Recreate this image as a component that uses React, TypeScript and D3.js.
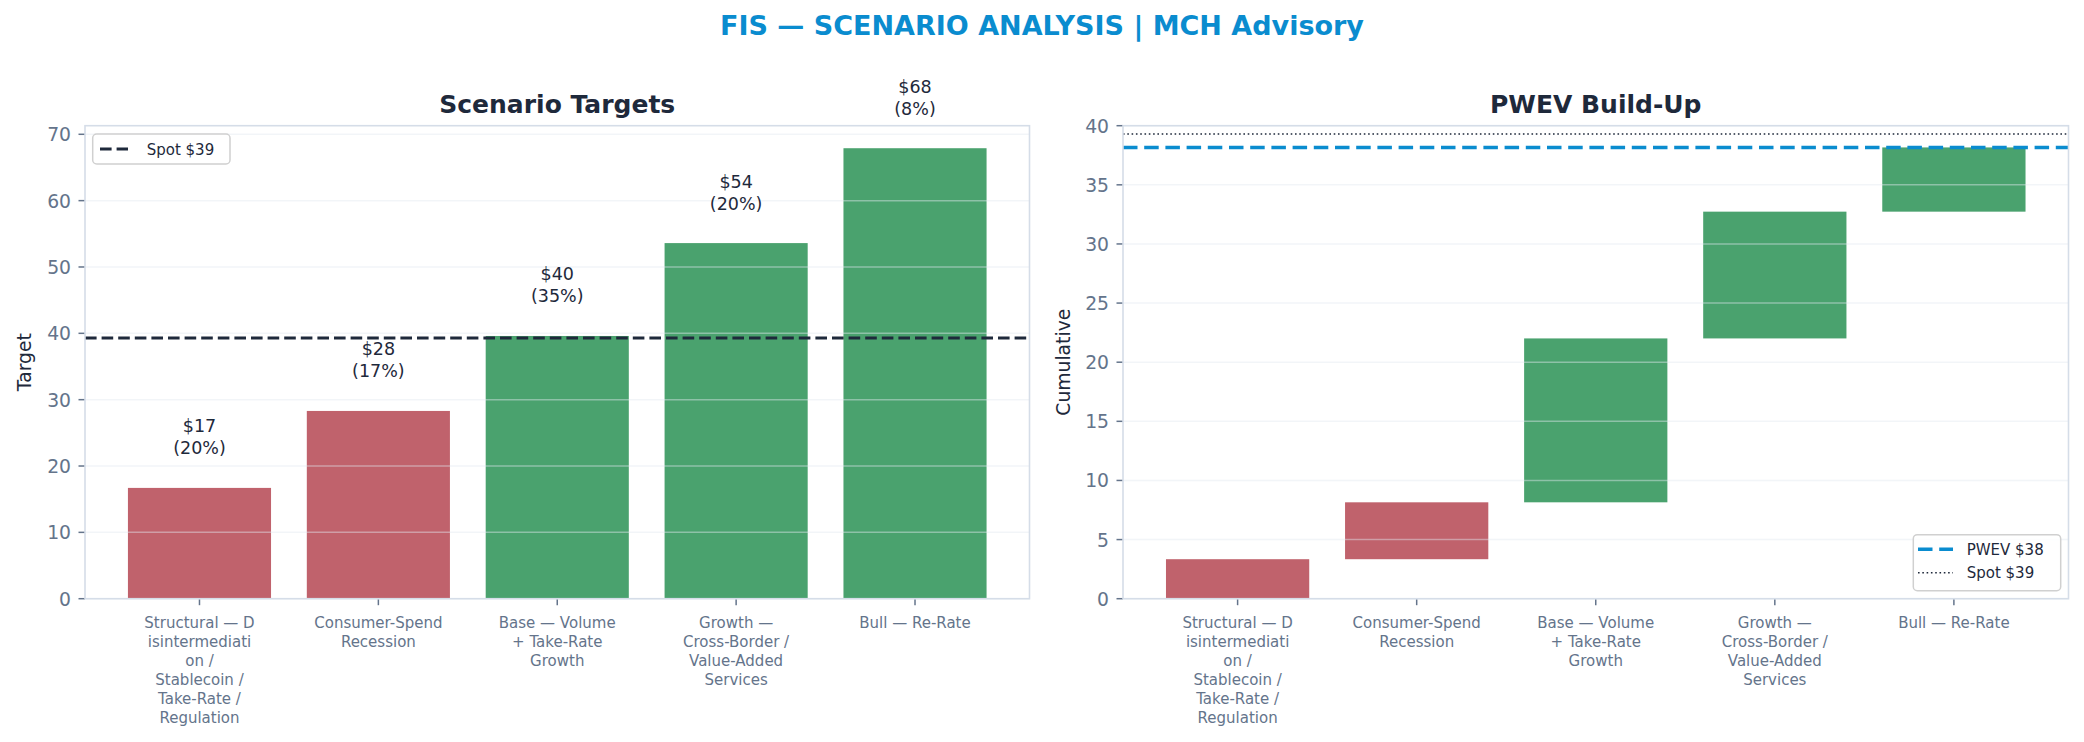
import React, { useEffect, useRef } from 'react';
import * as d3 from 'd3';

const WIDTH = 2084;
const HEIGHT = 742;

// Scenario names, already wrapped the way the source chart wraps them
const SCENARIOS = [
  'Structural — D\nisintermediati\non /\nStablecoin /\nTake-Rate /\nRegulation',
  'Consumer-Spend\nRecession',
  'Base — Volume\n+ Take-Rate\nGrowth',
  'Growth —\nCross-Border /\nValue-Added\nServices',
  'Bull — Re-Rate',
];
const TARGETS = [16.7, 28.3, 39.6, 53.6, 67.9];
const PROBS = [0.2, 0.17, 0.35, 0.2, 0.08];
const SPOT = 39.3;

const LEFT_TICKS = [0, 10, 20, 30, 40, 50, 60, 70];
const RIGHT_TICKS = [0, 5, 10, 15, 20, 25, 30, 35, 40];

const FONT = '"DejaVu Sans", sans-serif';
const DARK = '#1e293b';
const GREY = '#64748b';
const RED = '#c0626c';
const GREEN = '#4aa26e';
const BLUE = '#0a8ccf';
const SPINE = '#d5dde8';

const TOP = 125.7;
const BOTTOM = 598.7;

type Sel = d3.Selection<SVGGElement, unknown, null, undefined>;

// Shared frame: grid, ticks, tick labels, axis label and title
function drawFrame(
  g: Sel,
  x: d3.ScaleLinear<number, number>,
  y: d3.ScaleLinear<number, number>,
  ticks: number[],
  yLabel: string,
  yLabelX: number,
  title: string,
) {
  const [x0, x1] = x.range();

  // x ticks + wrapped labels
  SCENARIOS.forEach((name, i) => {
    const cx = x(i);
    g.append('line')
      .attr('x1', cx).attr('x2', cx)
      .attr('y1', BOTTOM).attr('y2', BOTTOM + 6.5)
      .attr('stroke', GREY).attr('stroke-width', 1.5);
    name.split('\n').forEach((line, j) => {
      g.append('text')
        .attr('x', cx)
        .attr('y', 627.5 + j * 19)
        .attr('text-anchor', 'middle')
        .attr('font-size', 15)
        .attr('fill', GREY)
        .text(line);
    });
  });

  // y ticks
  ticks.forEach((t) => {
    g.append('line')
      .attr('x1', x0 - 6.5).attr('x2', x0)
      .attr('y1', y(t)).attr('y2', y(t))
      .attr('stroke', GREY).attr('stroke-width', 1.5);
    g.append('text')
      .attr('x', x0 - 14)
      .attr('y', y(t) + 7)
      .attr('text-anchor', 'end')
      .attr('font-size', 18.75)
      .attr('fill', GREY)
      .text(String(t));
  });

  g.append('text')
    .attr('transform', `translate(${yLabelX},${(TOP + BOTTOM) / 2}) rotate(-90)`)
    .attr('text-anchor', 'middle')
    .attr('font-size', 18.75)
    .attr('fill', DARK)
    .text(yLabel);

  g.append('text')
    .attr('x', (x0 + x1) / 2)
    .attr('y', 112.7)
    .attr('text-anchor', 'middle')
    .attr('font-size', 25)
    .attr('font-weight', 'bold')
    .attr('fill', DARK)
    .text(title);
}

function drawGrid(g: Sel, x: d3.ScaleLinear<number, number>, y: d3.ScaleLinear<number, number>, ticks: number[]) {
  const [x0, x1] = x.range();
  ticks.forEach((t) => {
    g.append('line')
      .attr('x1', x0).attr('x2', x1)
      .attr('y1', y(t)).attr('y2', y(t))
      .attr('stroke', '#e2e8f0')
      .attr('stroke-opacity', 0.45)
      .attr('stroke-width', 1.5);
  });
}

function drawSpines(g: Sel, x: d3.ScaleLinear<number, number>) {
  const [x0, x1] = x.range();
  g.append('rect')
    .attr('x', x0).attr('y', TOP)
    .attr('width', x1 - x0).attr('height', BOTTOM - TOP)
    .attr('fill', 'none')
    .attr('stroke', SPINE)
    .attr('stroke-width', 1.6);
}

const App: React.FC = () => {
  const svgRef = useRef<SVGSVGElement>(null);

  useEffect(() => {
    if (!svgRef.current) return;
    const svg = d3.select(svgRef.current);
    svg.selectAll('*').remove();
    const root = svg.append('g').attr('font-family', FONT) as unknown as Sel;

    const colorOf = (v: number) => (v < SPOT ? RED : GREEN);
    const barW = 0.8;

    // suptitle
    root.append('text')
      .attr('x', WIDTH / 2)
      .attr('y', 35)
      .attr('text-anchor', 'middle')
      .attr('font-size', 27)
      .attr('font-weight', 'bold')
      .attr('fill', BLUE)
      .text('FIS — SCENARIO ANALYSIS | MCH Advisory');

    // ===== LEFT: scenario targets =====
    const xL = d3.scaleLinear().domain([-0.64, 4.64]).range([85, 1029.5]);
    const yL = d3.scaleLinear().domain([0, d3.max(TARGETS)! * 1.05]).range([BOTTOM, TOP]);
    const left = root.append('g') as unknown as Sel;

    drawFrame(left, xL, yL, LEFT_TICKS, 'Target', 31, 'Scenario Targets');

    left.selectAll('rect.bar')
      .data(TARGETS)
      .enter()
      .append('rect')
      .attr('class', 'bar')
      .attr('x', (_, i) => xL(i - barW / 2))
      .attr('width', xL(barW) - xL(0))
      .attr('y', (d) => yL(d))
      .attr('height', (d) => yL(0) - yL(d))
      .attr('fill', (d) => colorOf(d));

    drawGrid(left, xL, yL, LEFT_TICKS);

    TARGETS.forEach((v, i) => {
      const top = yL(v);
      left.append('text')
        .attr('x', xL(i)).attr('y', top - 55.5)
        .attr('text-anchor', 'middle')
        .attr('font-size', 17.5)
        .attr('fill', DARK)
        .text(`$${v.toFixed(0)}`);
      left.append('text')
        .attr('x', xL(i)).attr('y', top - 33.5)
        .attr('text-anchor', 'middle')
        .attr('font-size', 17.5)
        .attr('fill', DARK)
        .text(`(${Math.round(PROBS[i] * 100)}%)`);
    });

    left.append('line')
      .attr('x1', xL.range()[0]).attr('x2', xL.range()[1])
      .attr('y1', yL(SPOT)).attr('y2', yL(SPOT))
      .attr('stroke', DARK)
      .attr('stroke-width', 3)
      .attr('stroke-dasharray', '11.6,5');

    drawSpines(left, xL);

    // legend (upper left)
    left.append('rect')
      .attr('x', 92.7).attr('y', 134)
      .attr('width', 137.3).attr('height', 30)
      .attr('rx', 4)
      .attr('fill', '#fff').attr('fill-opacity', 0.8)
      .attr('stroke', '#d0d0d0').attr('stroke-width', 1.5);
    left.append('line')
      .attr('x1', 100).attr('x2', 128)
      .attr('y1', 149).attr('y2', 149)
      .attr('stroke', DARK).attr('stroke-width', 3)
      .attr('stroke-dasharray', '11.6,5');
    left.append('text')
      .attr('x', 146.7).attr('y', 154.5)
      .attr('font-size', 15)
      .attr('fill', DARK)
      .text(`Spot $${SPOT.toFixed(0)}`);

    // ===== RIGHT: PWEV waterfall =====
    const contrib = TARGETS.map((v, i) => v * PROBS[i]);
    const ends = d3.cumsum(contrib);
    const starts = ends.map((e, i) => e - contrib[i]);
    const pwev = ends[ends.length - 1];

    const xR = d3.scaleLinear().domain([-0.64, 4.64]).range([1123, 2068.5]);
    const yR = d3.scaleLinear().domain([0, 40]).range([BOTTOM, TOP]);
    const right = root.append('g') as unknown as Sel;

    drawFrame(right, xR, yR, RIGHT_TICKS, 'Cumulative', 1070, 'PWEV Build-Up');

    right.selectAll('rect.bar')
      .data(contrib)
      .enter()
      .append('rect')
      .attr('class', 'bar')
      .attr('x', (_, i) => xR(i - barW / 2))
      .attr('width', xR(barW) - xR(0))
      .attr('y', (_, i) => yR(ends[i]))
      .attr('height', (_, i) => yR(starts[i]) - yR(ends[i]))
      .attr('fill', (_, i) => colorOf(TARGETS[i]));

    drawGrid(right, xR, yR, RIGHT_TICKS);

    right.append('line')
      .attr('x1', xR.range()[0]).attr('x2', xR.range()[1])
      .attr('y1', yR(pwev)).attr('y2', yR(pwev))
      .attr('stroke', BLUE)
      .attr('stroke-width', 3.5)
      .attr('stroke-dasharray', '14.5,6.7');
    right.append('line')
      .attr('x1', xR.range()[0]).attr('x2', xR.range()[1])
      .attr('y1', yR(SPOT)).attr('y2', yR(SPOT))
      .attr('stroke', DARK)
      .attr('stroke-width', 1.6)
      .attr('stroke-dasharray', '1.6,2.7');

    drawSpines(right, xR);

    // legend (lower right)
    right.append('rect')
      .attr('x', 1913.3).attr('y', 534.7)
      .attr('width', 147.4).attr('height', 56)
      .attr('rx', 4)
      .attr('fill', '#fff').attr('fill-opacity', 0.8)
      .attr('stroke', '#d0d0d0').attr('stroke-width', 1.5);
    right.append('line')
      .attr('x1', 1918).attr('x2', 1953)
      .attr('y1', 549.3).attr('y2', 549.3)
      .attr('stroke', BLUE).attr('stroke-width', 3.5)
      .attr('stroke-dasharray', '14.5,6.7');
    right.append('line')
      .attr('x1', 1918).attr('x2', 1953)
      .attr('y1', 572.7).attr('y2', 572.7)
      .attr('stroke', DARK).attr('stroke-width', 1.6)
      .attr('stroke-dasharray', '1.6,2.7');
    right.append('text')
      .attr('x', 1966.7).attr('y', 554.5)
      .attr('font-size', 15)
      .attr('fill', DARK)
      .text(`PWEV $${pwev.toFixed(0)}`);
    right.append('text')
      .attr('x', 1966.7).attr('y', 578)
      .attr('font-size', 15)
      .attr('fill', DARK)
      .text(`Spot $${SPOT.toFixed(0)}`);
  }, []);

  return (
    <>
      <style>{'body{margin:0;background:#fff;}'}</style>
      <svg
        ref={svgRef}
        width={WIDTH}
        height={HEIGHT}
        style={{ display: 'block', background: '#fff' }}
      />
    </>
  );
};

export default App;
